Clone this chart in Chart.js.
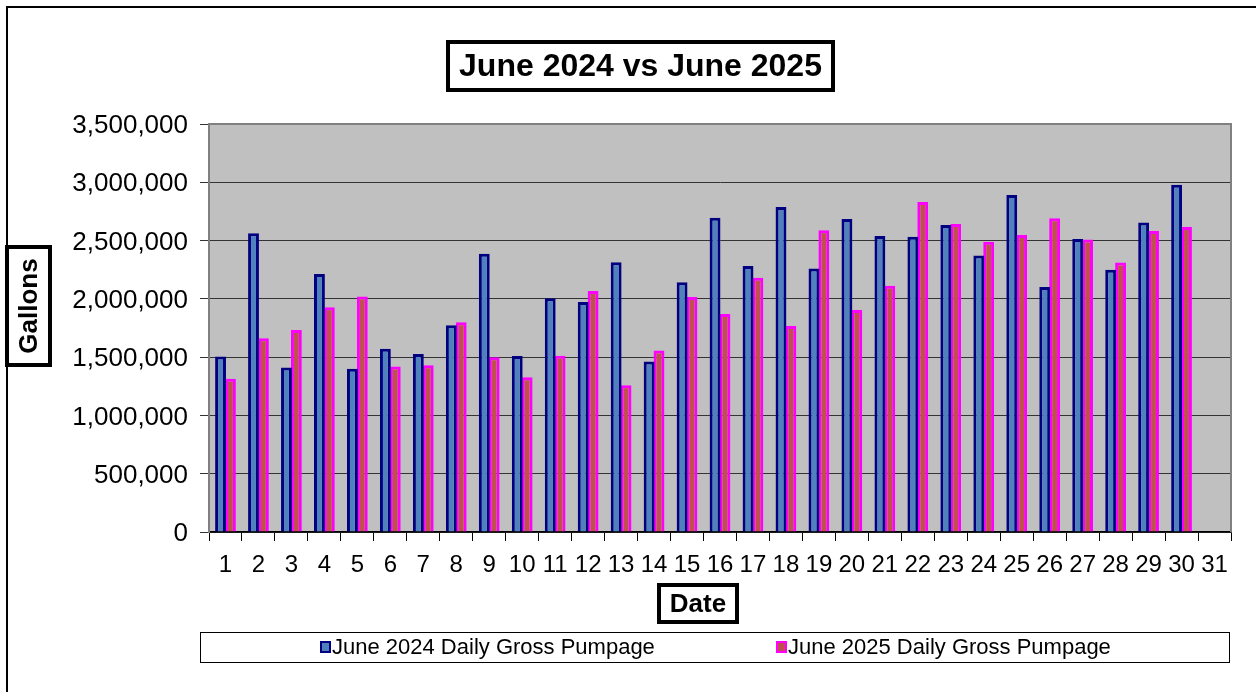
<!DOCTYPE html>
<html>
<head>
<meta charset="utf-8">
<title>June 2024 vs June 2025</title>
<script src="https://cdn.jsdelivr.net/npm/chart.js@4/dist/chart.umd.min.js"></script>
<style>
  html, body { margin:0; padding:0; background:#fff; }
  #wrap { width:1256px; height:692px; position:relative; }
</style>
</head>
<body>
<div id="wrap"><canvas id="pumpChart" width="1256" height="692"></canvas></div>
<script>
// daily gross pumpage, gallons
const days = ['1','2','3','4','5','6','7','8','9','10','11','12','13','14','15','16',
  '17','18','19','20','21','22','23','24','25','26','27','28','29','30','31'];

const june2024 = [1505000, 2562000, 1411000, 2214000, 1400000, 1572000, 1526000, 1773000,
  2386000, 1509000, 2005000, 1973000, 2315000, 1463000, 2143000, 2696000,
  2281000, 2788000, 2261000, 2684000, 2539000, 2533000, 2633000, 2373000,
  2891000, 2102000, 2513000, 2249000, 2656000, 2978000, null];

const june2025 = [1314000, 1663000, 1732000, 1928000, 2020000, 1420000, 1431000, 1799000,
  1500000, 1328000, 1512000, 2068000, 1259000, 1558000, 2016000, 1870000,
  2180000, 1767000, 2588000, 1904000, 2112000, 2831000, 2642000, 2490000,
  2547000, 2691000, 2510000, 2312000, 2583000, 2616000, null];

const seriesNames = ['June 2024 Daily Gross Pumpage', 'June 2025 Daily Gross Pumpage'];
const chartTitle = 'June 2024 vs June 2025';
const yTitle = 'Gallons';
const xTitle = 'Date';

const FONT = "Arial, 'Liberation Sans', sans-serif";

function boxedText(ctx, text, cx, cy, w, h, font, rotate) {
  ctx.save();
  ctx.lineWidth = 4;
  ctx.strokeStyle = '#000';
  ctx.fillStyle = '#fff';
  ctx.fillRect(cx - w/2, cy - h/2, w, h);
  ctx.strokeRect(cx - w/2, cy - h/2, w, h);
  ctx.fillStyle = '#000';
  ctx.font = font;
  ctx.textAlign = 'center';
  ctx.textBaseline = 'middle';
  ctx.translate(cx, cy);
  if (rotate) ctx.rotate(-Math.PI/2);
  ctx.fillText(text, 0, 1);
  ctx.restore();
}

// excel-ish decorations: plot background, boxed titles, boxed legend, outer frame
const decor = {
  id: 'decor',
  beforeDraw(chart) {
    const {ctx, chartArea:a} = chart;
    ctx.save();
    ctx.fillStyle = '#fff';
    ctx.fillRect(0, 0, chart.width, chart.height);
    ctx.fillStyle = '#C0C0C0';
    ctx.fillRect(a.left, a.top, a.right - a.left, a.bottom - a.top);
    ctx.restore();
  },
  afterDatasetsDraw(chart) {
    const {ctx, chartArea:a} = chart;
    ctx.save();
    ctx.strokeStyle = '#808080';
    ctx.lineWidth = 2;
    ctx.beginPath();
    ctx.moveTo(a.left, a.top); ctx.lineTo(a.right, a.top); ctx.lineTo(a.right, a.bottom);
    ctx.stroke();
    ctx.restore();
  },
  afterDraw(chart) {
    const ctx = chart.ctx;
    // outer frame (runs off right/bottom like the original)
    ctx.save();
    ctx.strokeStyle = '#000';
    ctx.lineWidth = 2;
    ctx.strokeRect(7, 7, 1300, 800);
    ctx.restore();

    boxedText(ctx, chartTitle, 640.5, 66, 385, 48, 'bold 32px ' + FONT, false);
    boxedText(ctx, yTitle, 28.5, 306, 43, 118, 'bold 26px ' + FONT, true);
    boxedText(ctx, xTitle, 698, 603.5, 78, 37, 'bold 26px ' + FONT, false);

    // legend
    ctx.save();
    ctx.lineWidth = 1;
    ctx.strokeStyle = '#000';
    ctx.strokeRect(200.5, 632.5, 1029, 30);
    ctx.font = '22px ' + FONT;
    ctx.textBaseline = 'middle';
    ctx.textAlign = 'left';
    const xs = [320, 776];
    chart.data.datasets.forEach((ds, i) => {
      ctx.fillStyle = ds.backgroundColor;
      ctx.fillRect(xs[i], 641, 11, 12);
      ctx.strokeStyle = ds.borderColor;
      ctx.lineWidth = 2;
      ctx.strokeRect(xs[i] + 1, 642, 9, 10);
      ctx.fillStyle = '#000';
      ctx.fillText(ds.label, xs[i] + 12, 648);
    });
    ctx.restore();
  }
};

const ctx = document.getElementById('pumpChart').getContext('2d');
new Chart(ctx, {
  type: 'bar',
  data: {
    labels: days,
    datasets: [
      { label: seriesNames[0], data: june2024, backgroundColor: '#4F81BD', borderColor: '#000080', borderWidth: 3 },
      { label: seriesNames[1], data: june2025, backgroundColor: '#C0504D', borderColor: '#FF00FF', borderWidth: 3 }
    ]
  },
  options: {
    responsive: false,
    animation: false,
    categoryPercentage: 0.6,
    barPercentage: 1.1,
    layout: { padding: { left: 0, right: 25, top: 124, bottom: 100 } },
    plugins: { legend: { display: false }, title: { display: false }, tooltip: { enabled: false } },
    scales: {
      x: {
        grid: { display: true, drawOnChartArea: false, drawTicks: true, tickLength: 9, color: '#000', offset: true },
        border: { display: true, color: '#000', width: 1.5 },
        ticks: { color: '#000', font: { family: FONT, size: 24 }, padding: 10, maxRotation: 0, autoSkip: false },
        afterFit(scale) { scale.height = 60; }
      },
      y: {
        min: 0, max: 3500000,
        grid: { color: '#333', lineWidth: 1, tickLength: 9, drawTicks: true },
        border: { display: true, color: '#808080', width: 2 },
        ticks: {
          stepSize: 500000, color: '#000', padding: 12, labelOffset: 2,
          font: { family: FONT, size: 26 },
          callback: v => v.toLocaleString('en-US')
        },
        afterFit(scale) { scale.width = 209; }
      }
    }
  },
  plugins: [decor]
});
</script>
</body>
</html>
